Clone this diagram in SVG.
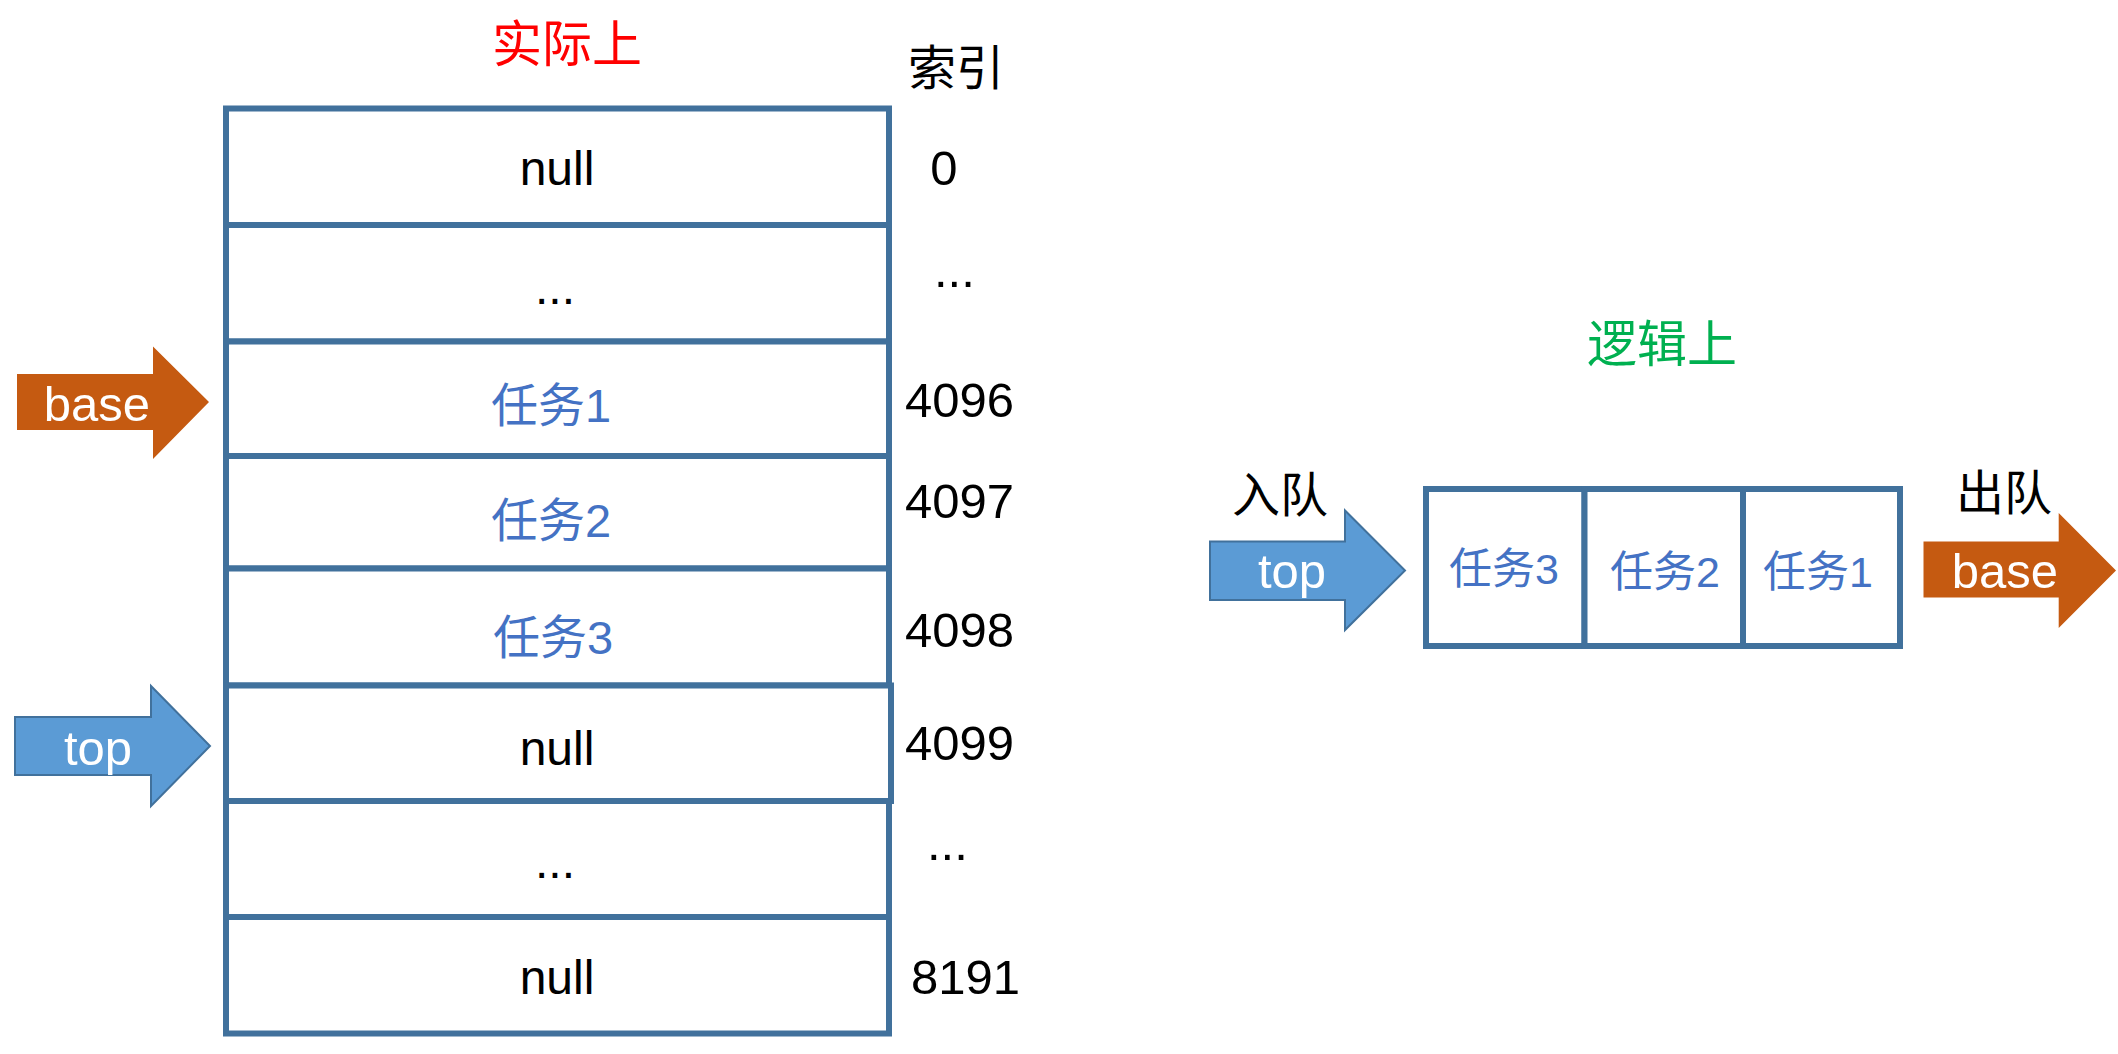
<svg xmlns="http://www.w3.org/2000/svg" width="2118" height="1054" viewBox="0 0 2118 1054">
<style>
.cell{fill:#fff;stroke:#41719C;stroke-width:6}
.t{font-family:"Liberation Sans",Arial,"Noto Sans CJK SC",sans-serif;text-anchor:middle}
.blk{fill:#000;font-size:48px}
.task{fill:#4472C4;font-size:47px}
.qtask{fill:#4472C4;font-size:43px}
.idx{font-family:"Liberation Sans",Arial,sans-serif;font-size:49px;fill:#000}
.cjk{font-family:"Noto Sans CJK SC",sans-serif}
.wt{fill:#fff;font-size:49px}
.org{fill:#C55A11}
.blu{fill:#5B9BD5;stroke:#41719C;stroke-width:2}
</style>
<rect width="2118" height="1054" fill="#fff"/>
<text class="t cjk" x="567" y="62" font-size="50" fill="#FF0000">实际上</text>
<text class="cjk" x="908" y="85" font-size="48" fill="#000">索引</text>
<g id="array">
<g id="row0"><rect class="cell" x="226" y="108.5" width="663" height="116.5"/><text class="t blk" x="557" y="185">null</text></g>
<g id="row1"><rect class="cell" x="226" y="225" width="663" height="116.5"/><text class="t blk" x="555" y="304">...</text></g>
<g id="row4096"><rect class="cell" x="226" y="341.5" width="663" height="114.5"/><text class="t task" x="551" y="422">任务1</text></g>
<g id="row4097"><rect class="cell" x="226" y="456" width="663" height="112.5"/><text class="t task" x="551" y="537">任务2</text></g>
<g id="row4098"><rect class="cell" x="226" y="568.5" width="663" height="117"/><text class="t task" x="553" y="654">任务3</text></g>
<g id="row4099"><rect class="cell" x="226" y="685.5" width="665" height="115.5"/><text class="t blk" x="557" y="765">null</text></g>
<g id="row5"><rect class="cell" x="226" y="801" width="663" height="116"/><text class="t blk" x="555" y="878">...</text></g>
<g id="row8191"><rect class="cell" x="226" y="917" width="663" height="116.5"/><text class="t blk" x="557" y="994">null</text></g>
</g>
<g id="indices">
<text class="idx" x="944" y="185" text-anchor="middle">0</text>
<text class="idx" x="934" y="287">...</text>
<text class="idx" x="905" y="417">4096</text>
<text class="idx" x="905" y="518">4097</text>
<text class="idx" x="905" y="647">4098</text>
<text class="idx" x="905" y="760">4099</text>
<text class="idx" x="927" y="860">...</text>
<text class="idx" x="911" y="994">8191</text>
</g>
<text class="t cjk" x="1662" y="362" font-size="50" fill="#00B050">逻辑上</text>
<text class="cjk" x="1232" y="512" font-size="48" fill="#000">入队</text>
<text class="cjk" x="1956" y="510" font-size="48" fill="#000">出队</text>
<g id="queue">
<g id="q3"><rect class="cell" x="1426" y="489" width="158.5" height="157"/><text class="t qtask" x="1504" y="584">任务3</text></g>
<g id="q2"><rect class="cell" x="1584.5" y="489" width="158.5" height="157"/><text class="t qtask" x="1665" y="587">任务2</text></g>
<g id="q1"><rect class="cell" x="1743" y="489" width="157" height="157"/><text class="t qtask" x="1818" y="587">任务1</text></g>
</g>
<g id="connectors">
<g id="base-left"><path class="org" d="M17,374 L153,374 L153,346.5 L209,402 L153,459 L153,430 L17,430 Z"/><text class="t wt" x="97" y="421">base</text></g>
<g id="top-left"><path class="blu" d="M15,717 L151,717 L151,686 L210,746 L151,806 L151,775 L15,775 Z"/><text class="t wt" x="98" y="765">top</text></g>
<g id="top-right"><path class="blu" d="M1210,541.5 L1345,541.5 L1345,510.5 L1405,570.5 L1345,630 L1345,600 L1210,600 Z"/><text class="t wt" x="1292" y="588">top</text></g>
<g id="base-right"><path class="org" d="M1923.5,541.5 L2058.7,541.5 L2058.7,513 L2116,570.5 L2058.7,628 L2058.7,597.4 L1923.5,597.4 Z"/><text class="t wt" x="2005" y="588">base</text></g>
</g>
</svg>
